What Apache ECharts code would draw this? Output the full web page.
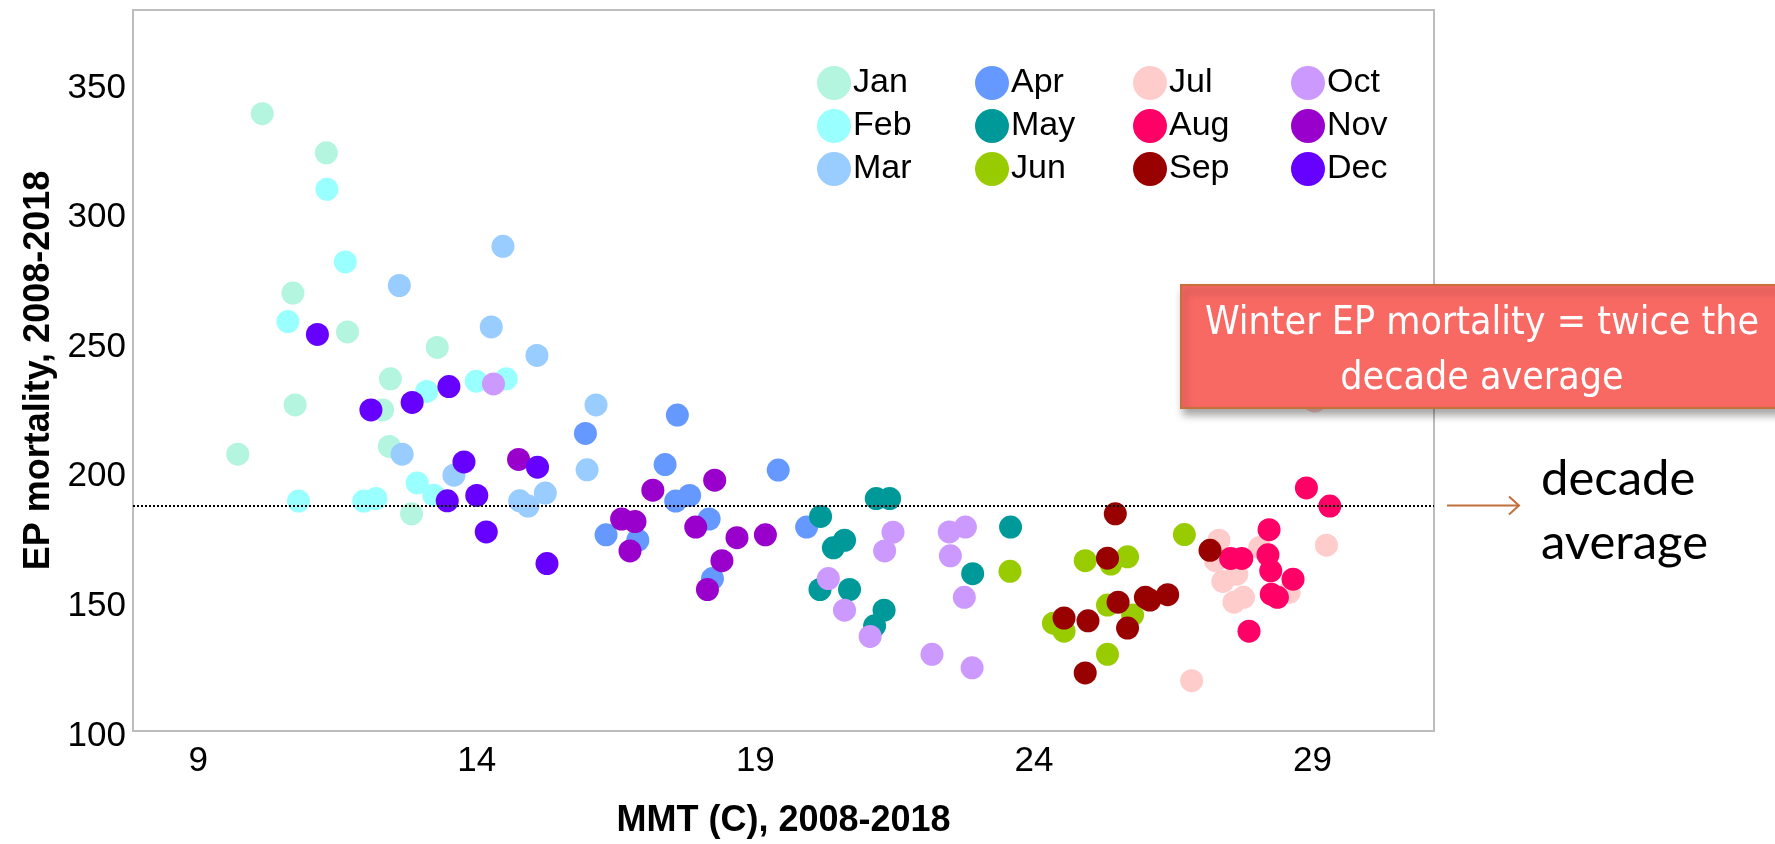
<!DOCTYPE html>
<html>
<head>
<meta charset="utf-8">
<title>EP mortality vs MMT</title>
<script src="https://cdn.jsdelivr.net/npm/echarts@6.0.0/dist/echarts.min.js"></script>
<style>
  html, body { margin: 0; padding: 0; background: #fff; }
  #chart { width: 1775px; height: 844px; }
</style>
</head>
<body>
<div id="chart"></div>
<script>
// month names and colours (legend order)
const months = ['Jan', 'Feb', 'Mar', 'Apr', 'May', 'Jun', 'Jul', 'Aug', 'Sep', 'Oct', 'Nov', 'Dec'];
const monthColors = ['#b3f5de', '#99ffff', '#99ccff', '#6699ff', '#009999', '#99cc00',
                     '#ffcccc', '#ff0066', '#990000', '#cc99ff', '#9900cc', '#6600ff'];

// [MMT (C), EP mortality] per month
const jan = [[10.15, 338.2], [11.30, 323.1], [10.70, 269.0], [11.68, 254.0], [13.29, 248.0], [12.45, 235.9],
             [10.74, 225.8], [12.31, 223.9], [9.71, 206.8], [12.43, 209.8], [12.83, 183.8]];
const feb = [[11.31, 309.0], [11.64, 281.0], [10.61, 258.0], [13.10, 231.0], [13.99, 235.0], [14.53, 235.9],
             [12.93, 195.7], [13.23, 191.0], [10.80, 188.7], [11.97, 188.7], [12.19, 189.7]];
const mar = [[14.47, 287.0], [12.61, 271.9], [14.26, 255.9], [15.08, 244.9], [16.14, 225.8], [12.66, 206.8],
             [15.98, 200.8], [13.59, 198.7], [14.77, 188.8], [14.92, 186.8], [15.23, 191.8]];
const apr = [[17.60, 221.9], [15.95, 214.8], [17.38, 202.8], [19.41, 200.7], [17.57, 188.7], [17.82, 190.9],
             [16.32, 175.7], [16.89, 173.6], [18.17, 181.8], [18.23, 158.8], [19.92, 178.7]];
const may = [[20.17, 182.8], [21.17, 189.7], [21.41, 189.7], [20.60, 173.6], [20.40, 170.7], [20.16, 154.6],
             [20.69, 154.6], [21.31, 146.6], [21.14, 140.6], [23.58, 178.7], [22.90, 160.7]];
const jun = [[23.57, 161.6], [24.92, 165.7], [24.35, 141.6], [24.54, 138.5], [25.38, 164.4], [25.68, 167.2],
             [26.70, 175.8], [25.32, 148.6], [25.77, 144.8], [25.32, 129.6]];
const jul = [[27.32, 173.6], [27.26, 165.7], [28.05, 170.8], [27.64, 160.5], [27.39, 157.7], [28.58, 153.5],
             [27.76, 151.6], [27.59, 149.7], [29.25, 171.7], [26.83, 119.4], [29.04, 227.3]];
const aug = [[27.53, 166.6], [27.73, 166.6], [28.22, 177.7], [28.20, 168.0], [28.25, 161.8], [28.65, 158.6],
             [28.26, 152.8], [28.37, 151.6], [27.86, 138.5], [28.89, 193.8], [29.31, 186.8]];
const sep = [[25.46, 183.8], [25.32, 166.7], [27.16, 169.7], [24.54, 143.6], [24.97, 142.5], [24.92, 122.4],
             [25.51, 149.7], [26.00, 151.6], [26.08, 150.5], [26.40, 152.6], [25.68, 139.7]];
const oct = [[14.30, 233.9], [21.47, 176.7], [21.32, 169.5], [20.31, 158.8], [20.60, 146.6], [21.06, 136.5],
             [22.48, 176.8], [22.77, 178.7], [22.50, 167.6], [22.75, 151.6], [22.17, 129.6], [22.89, 124.4]];
const nov = [[14.75, 204.8], [17.16, 192.9], [18.27, 196.8], [16.60, 181.8], [16.84, 180.8], [16.75, 169.5],
             [17.93, 178.7], [18.67, 174.6], [19.18, 175.7], [18.40, 165.7], [18.14, 154.6]];
const dec = [[11.14, 253.0], [12.10, 223.9], [12.84, 226.8], [13.50, 232.9], [13.77, 203.8], [13.47, 188.8],
             [14.00, 190.9], [14.17, 176.8], [15.26, 164.6], [15.09, 201.8]];

const monthData = [jan, feb, mar, apr, may, jun, jul, aug, sep, oct, nov, dec];

// axis ticks and the reference line
const xTicks = [9, 14, 19, 24, 29];
const yTicks = [100, 150, 200, 250, 300, 350];
const decadeAvg = 187;

const chart = echarts.init(document.getElementById('chart'));

const series = months.map(function (m, i) {
  return {
    name: m,
    type: 'scatter',
    data: monthData[i],
    symbolSize: 23,
    itemStyle: { color: monthColors[i], opacity: 1 },
    emphasis: { disabled: true },
    silent: true
  };
});
series.push({
  name: 'avg',
  type: 'scatter',
  data: [],
  markLine: {
    silent: true,
    symbol: 'none',
    label: { show: false },
    lineStyle: { type: 'dotted', color: '#000', width: 2 },
    data: [{ yAxis: decadeAvg }]
  },
  z: 10
});

// legend: four columns of three months
const legendCols = [0, 1, 2, 3].map(function (c) {
  return {
    orient: 'vertical',
    left: 817 + c * 158,
    top: 66,
    padding: 0,
    itemWidth: 34,
    itemHeight: 34,
    itemGap: 9,
    icon: 'circle',
    selectedMode: false,
    data: months.slice(c * 3, c * 3 + 3),
    textStyle: { fontSize: 34, color: '#000', padding: [0, 0, 0, -3], fontFamily: 'Liberation Sans, Arial, sans-serif' }
  };
});

const option = {
  animation: false,
  backgroundColor: '#fff',
  grid: {
    left: 133, right: 341, top: 10, bottom: 110,
    show: true, borderColor: '#bdbdbd', borderWidth: 2
  },
  legend: legendCols,
  xAxis: {
    type: 'value',
    min: 7.83,
    max: 31.18,
    name: 'MMT (C), 2008-2018',
    nameLocation: 'middle',
    nameGap: 72,
    nameTextStyle: { fontSize: 36, fontWeight: 'bold', color: '#000', fontFamily: 'Liberation Sans, Arial, sans-serif' },
    axisLine: { show: false },
    axisTick: { show: false },
    splitLine: { show: false },
    axisLabel: {
      customValues: xTicks,
      fontSize: 35,
      color: '#000',
      margin: 13,
      fontFamily: 'Liberation Sans, Arial, sans-serif'
    }
  },
  yAxis: {
    type: 'value',
    min: 100,
    max: 378.2,
    name: 'EP mortality, 2008-2018',
    nameLocation: 'middle',
    nameGap: 73,
    nameTextStyle: { fontSize: 36, fontWeight: 'bold', color: '#000', fontFamily: 'Liberation Sans, Arial, sans-serif' },
    axisLine: { show: false },
    axisTick: { show: false },
    splitLine: { show: false },
    axisLabel: {
      customValues: yTicks,
      fontSize: 35,
      color: '#000',
      margin: 7,
      verticalAlign: 'top',
      lineHeight: 10,
      fontFamily: 'Liberation Sans, Arial, sans-serif'
    }
  },
  series: series
};
chart.setOption(option);

// arrow + notes placed next to the decade average line
const yLine = chart.convertToPixel({ yAxisIndex: 0 }, decadeAvg);
chart.setOption({
  graphic: [
    {
      type: 'line',
      shape: { x1: 1447, y1: yLine, x2: 1519, y2: yLine },
      style: { stroke: '#c0703c', lineWidth: 2 }
    },
    {
      type: 'polyline',
      shape: { points: [[1509, yLine - 9], [1519, yLine], [1509, yLine + 9]] },
      style: { stroke: '#c0703c', lineWidth: 2, fill: null }
    },
    {
      type: 'text',
      x: 1541,
      y: yLine + 6,
      style: {
        text: 'decade\naverage',
        font: '49px Lato, sans-serif',
        fill: '#000',
        lineHeight: 64,
        verticalAlign: 'middle'
      }
    },
    {
      type: 'rect',
      z: 100,
      shape: { x: 1181, y: 285, width: 602, height: 123 },
      style: {
        fill: '#f96964',
        stroke: '#c8703c',
        lineWidth: 2,
        shadowBlur: 8,
        shadowOffsetX: 3,
        shadowOffsetY: 6,
        shadowColor: 'rgba(0,0,0,0.35)'
      }
    },
    {
      type: 'text',
      z: 101,
      x: 1482,
      y: 351,
      style: {
        text: 'Winter EP mortality = twice the\ndecade average',
        font: '39px "DejaVu Sans Condensed", "Liberation Sans Narrow", sans-serif',
        fill: '#fff',
        align: 'center',
        verticalAlign: 'middle',
        lineHeight: 55
      }
    }
  ]
});

window.addEventListener('resize', function () { chart.resize(); });
</script>
</body>
</html>
